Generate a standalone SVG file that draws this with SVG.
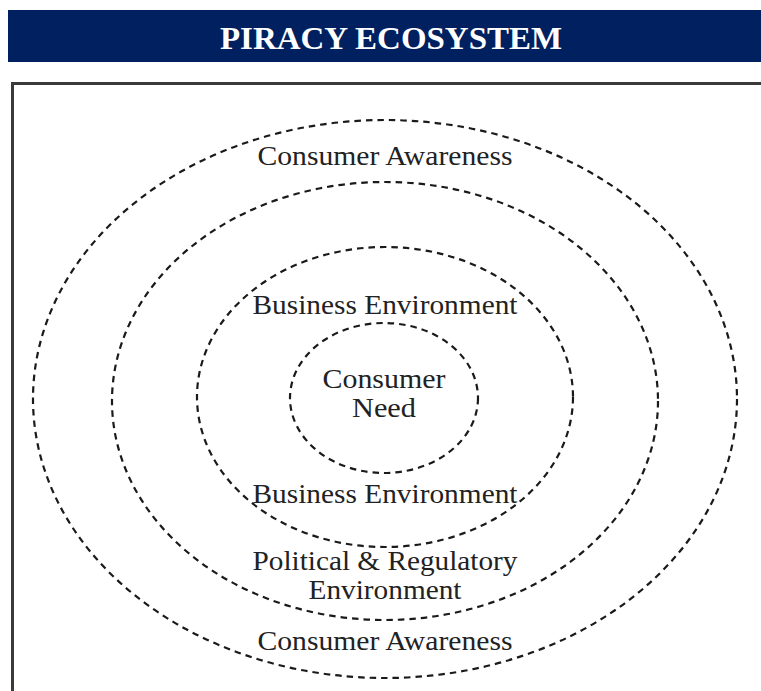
<svg xmlns="http://www.w3.org/2000/svg" width="761" height="691" viewBox="0 0 761 691">
  <style>
    .ring { fill: none; stroke: #1a1a1a; stroke-width: 2.2; stroke-dasharray: 6.5 5; }
    .lbl { font-family: "Liberation Serif", "Times New Roman", serif; font-size: 27px; fill: #222; text-anchor: middle; }
    .title { font-family: "Liberation Serif", "Times New Roman", serif; font-size: 31px; font-weight: bold; fill: #ffffff; text-anchor: middle; }
  </style>
  <rect x="0" y="0" width="761" height="691" fill="#ffffff"/>
  <g id="header">
    <rect x="8" y="10" width="760" height="52" fill="#002060"/>
    <text class="title" x="391" y="49" textLength="342" lengthAdjust="spacingAndGlyphs">PIRACY ECOSYSTEM</text>
  </g>
  <g id="frame">
    <rect x="12.5" y="83.5" width="800" height="700" fill="none" stroke="#3a3a3a" stroke-width="3"/>
  </g>
  <g id="ring-consumer-awareness">
    <ellipse class="ring" cx="385" cy="399" rx="352" ry="279"/>
    <text class="lbl" x="385" y="165" textLength="255" lengthAdjust="spacingAndGlyphs">Consumer Awareness</text>
    <text class="lbl" x="385" y="650" textLength="255" lengthAdjust="spacingAndGlyphs">Consumer Awareness</text>
  </g>
  <g id="ring-political-regulatory">
    <ellipse class="ring" cx="385" cy="401" rx="273" ry="219"/>
    <text class="lbl" x="385" y="570" textLength="265" lengthAdjust="spacingAndGlyphs">Political &amp; Regulatory</text>
    <text class="lbl" x="385" y="599" textLength="153" lengthAdjust="spacingAndGlyphs">Environment</text>
  </g>
  <g id="ring-business-environment">
    <ellipse class="ring" cx="385" cy="397" rx="188" ry="150"/>
    <text class="lbl" x="385" y="314" textLength="265" lengthAdjust="spacingAndGlyphs">Business Environment</text>
    <text class="lbl" x="385" y="503" textLength="265" lengthAdjust="spacingAndGlyphs">Business Environment</text>
  </g>
  <g id="ring-consumer-need">
    <ellipse class="ring" cx="384" cy="398" rx="94" ry="75"/>
    <text class="lbl" x="384" y="388" textLength="123" lengthAdjust="spacingAndGlyphs">Consumer</text>
    <text class="lbl" x="384" y="417" textLength="64" lengthAdjust="spacingAndGlyphs">Need</text>
  </g>
  <g id="connectors"></g>
</svg>
